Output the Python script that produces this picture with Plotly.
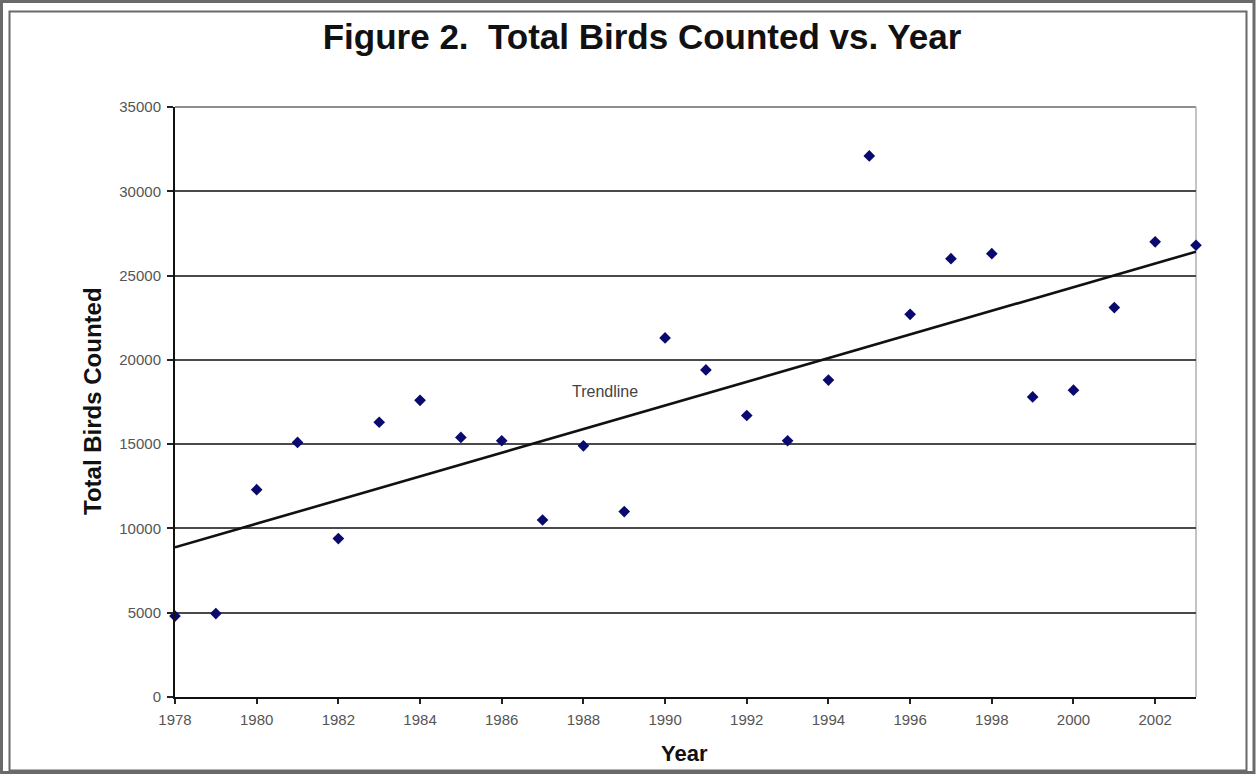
import numpy as np
import plotly.graph_objects as go

# ---- data ----
years = [1978, 1979, 1980, 1981, 1982, 1983, 1984, 1985, 1986, 1987, 1988, 1989, 1990,
         1991, 1992, 1993, 1994, 1995, 1996, 1997, 1998, 1999, 2000, 2001, 2002, 2003]
total_birds = [4800, 4950, 12300, 15100, 9400, 16300, 17600, 15400, 15200, 10500, 14900, 11000, 21300,
               19400, 16700, 15200, 18800, 32100, 22700, 26000, 26300, 17800, 18200, 23100, 27000, 26800]
x_tick_vals = list(range(1978, 2003, 2))
x_tick_text = [str(v) for v in x_tick_vals]
y_tick_vals = [0, 5000, 10000, 15000, 20000, 25000, 30000, 35000]
y_tick_text = [str(v) for v in y_tick_vals]
title_text = "Figure 2.  Total Birds Counted vs. Year"
x_title = "Year"
y_title = "Total Birds Counted"
trend_label = "Trendline"

# linear trendline (least squares, as in the spreadsheet)
slope, intercept = np.polyfit(years, total_birds, 1)
trend_x = [years[0], years[-1]]
trend_y = [slope * v + intercept for v in trend_x]

W, H = 1256, 774
L, R, T, B = 175, 1196, 107, 697


def px(xp):
    return (xp - L) / (R - L)


def py(yp):
    return (B - yp) / (B - T)


fig = go.Figure()
fig.add_trace(go.Scatter(x=trend_x, y=trend_y, mode="lines",
                         line=dict(color="#111111", width=2.6), showlegend=False,
                         hoverinfo="skip", cliponaxis=False))
fig.add_trace(go.Scatter(x=years, y=total_birds, mode="markers",
                         marker=dict(symbol="diamond", size=9, color="#0a0a6e"),
                         showlegend=False, cliponaxis=False))

shapes = [
    # top gridline (edge of range)
    dict(type="line", xref="paper", yref="paper", x0=0, x1=1, y0=1, y1=1,
         line=dict(color="#6a6a6a", width=1.6), layer="below"),
    # right edge of plot area
    dict(type="line", xref="paper", yref="paper", x0=1, x1=1, y0=0, y1=1,
         line=dict(color="#b0b0b0", width=1.5), layer="below"),
    # outer double border
    dict(type="rect", xref="paper", yref="paper", x0=px(1.5), x1=px(1254), y0=py(1.5), y1=py(772.5),
         line=dict(color="#6a6a6a", width=3)),
    dict(type="rect", xref="paper", yref="paper", x0=px(9.5), x1=px(1246.5), y0=py(11.5), y1=py(770.5),
         line=dict(color="#6a6a6a", width=2)),
]

annotations = [
    dict(text=trend_label, x=1988.53, y=18100, xref="x", yref="y", showarrow=False,
         font=dict(family="Liberation Sans, Arial", size=16, color="#444444")),
    dict(text="<b>" + y_title + "</b>", x=px(92), y=py(401), xref="paper", yref="paper",
         textangle=-90, showarrow=False, xanchor="center", yanchor="middle",
         font=dict(family="Liberation Sans, Arial", size=24, color="#111111")),
    dict(text="<b>" + x_title + "</b>", x=px(684), y=py(753), xref="paper", yref="paper",
         showarrow=False, xanchor="center", yanchor="middle",
         font=dict(family="Liberation Sans, Arial", size=22, color="#111111")),
]

fig.update_layout(
    width=W, height=H,
    margin=dict(l=L, r=W - R, t=T, b=H - B, pad=0),
    paper_bgcolor="white", plot_bgcolor="white",
    title=dict(text="<b>" + title_text + "</b>", x=642 / W, xref="container", xanchor="center",
               y=1 - 37 / H, yref="container", yanchor="middle",
               font=dict(family="Liberation Sans, Arial", size=35, color="#111111")),
    shapes=shapes, annotations=annotations,
    xaxis=dict(range=[1978, 2003], tickmode="array", tickvals=x_tick_vals, ticktext=x_tick_text,
               showgrid=False, zeroline=False, showline=True, linecolor="#111111", linewidth=2,
               ticks="outside", ticklen=5, tickcolor="#222222", tickwidth=1.5,
               ticklabelstandoff=3,
               tickfont=dict(family="Liberation Sans, Arial", size=15, color="#555555")),
    yaxis=dict(range=[0, 35000], tickmode="array", tickvals=y_tick_vals, ticktext=y_tick_text,
               showgrid=True, gridcolor="#4a4a4a", gridwidth=1.8, zeroline=False,
               showline=True, linecolor="#111111", linewidth=2,
               ticks="outside", ticklen=6, tickcolor="#222222", tickwidth=1.5,
               ticklabelstandoff=3,
               tickfont=dict(family="Liberation Sans, Arial", size=15, color="#555555")),
)

fig.write_html("out.html", config={"displayModeBar": False},
               post_script="document.body.style.margin='0';document.body.style.padding='0';")
